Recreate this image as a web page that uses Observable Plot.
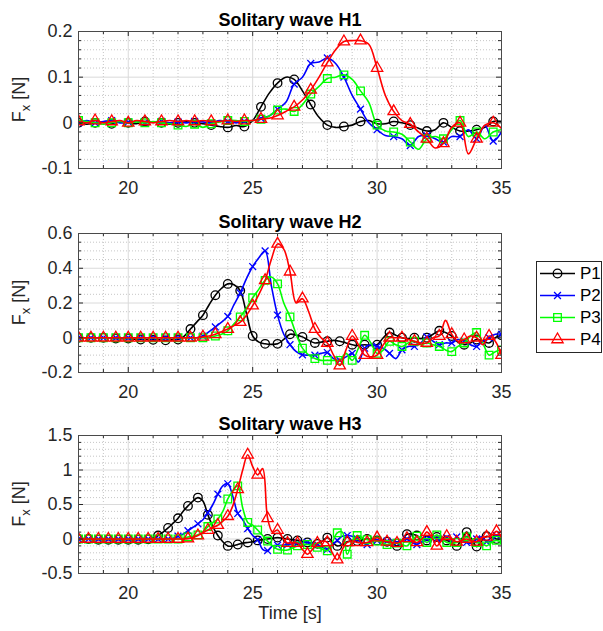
<!DOCTYPE html>
<html><head><meta charset="utf-8">
<script src="https://cdn.jsdelivr.net/npm/d3@7"></script>
<script src="https://cdn.jsdelivr.net/npm/@observablehq/plot@0.6"></script>
<style>
body{margin:0;background:#fff;}
#wrap{position:relative;width:603px;height:631px;overflow:hidden;background:#fff;}
.panel{position:absolute;left:0;}
#legend{position:absolute;left:536px;top:261px;}
</style>
</head><body><div id="wrap"></div>
<script>
// ---------- series meta ----------
const seriesNames = ["P1", "P2", "P3", "P4"];
const seriesColors = ["#000000", "#0000ff", "#00ff00", "#ff0000"];
const seriesSymbols = ["circle", "times", "square", "triangle"];

// ---------- shared x axis ----------
const xDomain = [18, 35];
const xMajorTicks = [20, 25, 30, 35];
const xTickLabels = ["20", "25", "30", "35"];
const xMinorTicks = [19, 20, 21, 22, 23, 24, 25, 26, 27, 28, 29, 30, 31, 32, 33, 34];
const xLabel = "Time [s]";

// ---------- Solitary wave H1 (sampled every 1/3 s from 18 s) ----------
const h1Title = "Solitary wave H1";
const h1Start = 18, h1Step = 1 / 3;
const h1P1 = [0, -0.003, 0, 0.002, -0.002, 0.002, 0, -0.002, 0.003, 0.002, 0, -0.003, 0, 0.002, 0, -0.002, -0.005, -0.008, -0.01, -0.006, -0.008,
  0.005, 0.035, 0.065, 0.087, 0.1, 0.095, 0.07, 0.04, 0.012, -0.005, -0.01, -0.008, -0.005, 0.003, 0.005, -0.002, -0.002, 0.003, 0, -0.005,
  -0.012, -0.018, -0.015, 0, -0.01, -0.018, -0.018, -0.015, -0.01, 0.003, 0.003];
const h1P2 = [0, 0.005, 0, 0.003, 0.005, 0, 0.002, 0.003, 0, 0.002, 0.003, 0, 0.002, 0, 0.003, 0.002, 0, 0.005, 0.003, 0, 0.003,
  0.005, 0.01, 0.015, 0.03, 0.045, 0.085, 0.1, 0.13, 0.133, 0.142, 0.13, 0.1, 0.06, 0.03, 0.0, -0.015, -0.028, -0.03, -0.035, -0.05,
  -0.03, -0.028, -0.035, -0.042, -0.03, -0.03, -0.015, -0.035, -0.006, -0.04, -0.02];
const h1P3 = [0.005, 0.003, 0, -0.003, 0, 0.003, 0, 0.002, 0, 0.003, 0, -0.002, -0.005, -0.008, -0.003, -0.01, -0.002, 0.002, 0.005, 0.005, 0.003,
  0.005, 0.008, 0.015, 0.028, 0.03, 0.025, 0.04, 0.063, 0.08, 0.097, 0.1, 0.105, 0.095, 0.07, 0.045, -0.005, -0.018, -0.02, -0.025, -0.042,
  -0.058, -0.035, -0.03, -0.035, -0.015, 0.005, -0.03, -0.02, -0.035, -0.02, -0.015];
const h1P4 = [0.003, 0, 0.005, 0, 0.003, 0.005, 0, 0.005, 0.003, 0, 0.003, 0.005, 0.003, 0.005, 0.003, 0.005, 0.003, 0.003, 0.005, 0.003, 0.005,
  0.005, 0.008, 0.01, 0.016, 0.025, 0.035, 0.05, 0.072, 0.1, 0.132, 0.16, 0.178, 0.18, 0.18, 0.172, 0.12, 0.06, 0.025, 0.005, -0.003,
  -0.02, -0.035, -0.055, -0.045, -0.01, 0.0, -0.068, -0.035, -0.005, 0.0, -0.012];
const h1YDomain = [-0.1, 0.2];
const h1YTicks = [-0.1, 0, 0.1, 0.2];
const h1YTickLabels = ["-0.1", "0", "0.1", "0.2"];
const h1YMinorStep = 0.02;

// ---------- Solitary wave H2 (sampled every 0.25 s from 18 s) ----------
const h2Title = "Solitary wave H2";
const h2Start = 18, h2Step = 0.25;
const h2P1 = [0, 0, 0, 0, 0, 0, -0.005, -0.005, -0.005, -0.008, -0.01, -0.01, -0.012, -0.012, -0.015, -0.012,
  -0.01, 0.01, 0.05, 0.09, 0.13, 0.19, 0.245, 0.285, 0.31, 0.305, 0.27, 0.14, 0.01, -0.025, -0.035, -0.038,
  -0.035, -0.01, 0.02, 0.015, 0.005, -0.015, -0.03, -0.025, -0.02, -0.015, -0.02, -0.03, -0.04, -0.045, -0.04, -0.045,
  -0.04, 0.0, 0.03, 0.015, 0, -0.005, 0, -0.005, 0, 0.02, 0.04, 0.03, 0.01, -0.025, -0.04, -0.03,
  -0.01, -0.02, -0.03, 0, 0.015];
const h2P2 = [0, 0, 0, 0, 0, 0, 0, 0, 0, 0, 0, 0, 0, 0, 0, 0, 0, 0, 0, 0,
  0.01, 0.035, 0.062, 0.09, 0.123, 0.19, 0.258, 0.34, 0.41, 0.46, 0.5, 0.3, 0.13, 0.02, -0.04, -0.08,
  -0.098, -0.1, -0.1, -0.09, -0.085, -0.12, -0.13, -0.11, -0.09, -0.14, -0.06, -0.04, -0.05, -0.06, -0.09, -0.12,
  -0.07, -0.05, -0.05, -0.03, 0.005, -0.02, -0.04, -0.03, -0.03, -0.01, -0.02, -0.04, -0.05, -0.02, 0, 0.02, 0.02];
const h2P3 = [0, 0, 0, 0, 0, 0, 0, 0, 0, 0, 0, 0, 0, 0, 0, 0, 0, 0, 0, 0,
  0, 0, 0.01, 0.02, 0.04, 0.08, 0.12, 0.17, 0.23, 0.28, 0.33, 0.35, 0.31, 0.2, 0.12, 0.02,
  -0.06, -0.1, -0.12, -0.13, -0.13, -0.13, -0.13, -0.09, -0.13, -0.06, 0.014, -0.03, -0.09, -0.07, -0.02, -0.04,
  -0.05, -0.03, -0.02, -0.04, -0.03, -0.04, -0.05, -0.07, -0.08, -0.05, -0.03, 0.01, 0.03, -0.03, -0.1, -0.08, -0.07];
const h2P4 = [0, 0, 0, 0, 0, 0, 0, 0, 0, 0, 0, 0, 0, 0, 0, 0, 0, 0, 0, 0,
  0.005, 0.01, 0.02, 0.035, 0.05, 0.07, 0.09, 0.13, 0.185, 0.25, 0.33, 0.45, 0.54, 0.51, 0.38, 0.2,
  0.225, 0.15, 0.05, 0.0, -0.03, -0.1, -0.16, -0.07, 0.01, -0.04, -0.1, -0.11, -0.1, -0.04, 0, 0,
  0, -0.01, -0.02, -0.03, -0.03, 0, 0.01, 0.1, 0.02, -0.02, -0.01, 0.01, 0, -0.04, 0.01, -0.02, -0.1];
const h2YDomain = [-0.2, 0.6];
const h2YTicks = [-0.2, 0, 0.2, 0.4, 0.6];
const h2YTickLabels = ["-0.2", "0", "0.2", "0.4", "0.6"];
const h2YMinorStep = 0.05;

// ---------- Solitary wave H3 (sampled every 0.2 s from 18 s) ----------
const h3Title = "Solitary wave H3";
const h3Start = 18, h3Step = 0.2;
const h3P1 = [0, 0, 0, -0.01, -0.01, -0.01, -0.01, -0.01, -0.01, -0.01, -0.01, -0.01, -0.01, -0.01, -0.005,
  0.01, 0.05, 0.1, 0.16, 0.23, 0.3, 0.4, 0.48, 0.55, 0.6, 0.55, 0.35, 0.18, 0.05, -0.04,
  -0.1, -0.1, -0.08, -0.06, -0.05, -0.04, -0.02, -0.01, 0, 0.01, 0.02, 0.01, 0, -0.01, -0.02,
  -0.04, -0.05, -0.06, -0.07, -0.03, 0.02, -0.04, -0.1, -0.08, -0.04, -0.03, -0.03, -0.01, 0, -0.01,
  -0.02, -0.03, -0.04, -0.06, -0.1, -0.02, 0.07, 0.07, 0.05, 0, -0.02, 0, 0.03, 0, -0.02,
  -0.05, -0.1, 0, 0.1, 0, -0.11, -0.03, 0.04, 0.02, 0, 0];
const h3P2 = [0, 0, 0, 0, 0, 0, 0, 0, 0, 0, 0, 0, 0, 0, 0, 0, 0, 0, 0, 0.01,
  0.04, 0.07, 0.12, 0.17, 0.22, 0.28, 0.38, 0.5, 0.65, 0.77, 0.8, 0.62, 0.37, 0.28, 0.15,
  0.05, -0.01, -0.15, -0.17, -0.1, -0.09, -0.09, -0.08, -0.07, -0.06, -0.05, -0.05, -0.06, -0.08, -0.12,
  -0.15, -0.08, -0.02, 0.04, 0.05, 0.04, 0, -0.05, -0.08, -0.02, -0.02, -0.04, -0.03, -0.02, -0.05,
  -0.03, 0, -0.05, -0.08, -0.04, 0, 0.02, 0, -0.02, 0.02, -0.04, 0.03, -0.02, -0.05, -0.06,
  0, 0.03, -0.04, -0.03, 0.05, 0];
const h3P3 = [0, 0, 0, 0, 0, 0, 0, 0, 0, 0, 0, 0, 0, 0, 0, 0, 0, 0, 0, 0,
  0, 0.01, 0.03, 0.04, 0.06, 0.1, 0.18, 0.24, 0.29, 0.4, 0.58, 0.7, 0.77, 0.45, 0.24,
  0.2, 0.13, 0.05, -0.03, -0.1, -0.15, -0.16, -0.16, -0.13, -0.1, -0.08, -0.08, -0.1, -0.12, -0.15,
  -0.17, -0.05, 0.09, 0.1, -0.22, -0.05, 0.05, 0.02, -0.01, -0.02, -0.03, -0.05, -0.08, -0.06, -0.06,
  -0.08, -0.1, -0.02, 0.04, 0, -0.05, 0, 0.06, 0, -0.05, -0.06, -0.05, -0.02, 0.03, -0.02,
  -0.05, -0.06, -0.1, -0.05, -0.02, -0.05];
const h3P4 = [0, 0, 0, 0, 0, 0, 0, 0, 0, 0, 0, 0, 0, 0, 0, 0, 0, 0, 0, 0,
  0, 0, 0.005, 0.02, 0.05, 0.09, 0.13, 0.17, 0.2, 0.26, 0.33, 0.48, 0.72, 1.0, 1.22,
  1.05, 0.93, 1.02, 0.3, 0.1, 0.13, 0.02, -0.06, -0.05, -0.06, -0.15, -0.22, -0.15, -0.06, -0.03,
  -0.05, -0.2, -0.3, -0.15, -0.05, -0.03, -0.05, -0.06, -0.05, -0.02, 0.02, -0.02, -0.04, -0.05, -0.06,
  -0.03, 0.01, -0.02, -0.05, 0, 0.1, 0.02, -0.1, -0.02, 0.04, 0, -0.04, -0.02, 0, -0.03,
  -0.04, 0.02, 0.03, 0.05, 0.11, 0.02];
const h3YDomain = [-0.5, 1.5];
const h3YTicks = [-0.5, 0, 0.5, 1, 1.5];
const h3YTickLabels = ["-0.5", "0", "0.5", "1", "1.5"];
const h3YMinorStep = 0.1;

// ---------- drawing ----------
const FONT = "'Liberation Sans', Arial, Helvetica, sans-serif";
const TXT = "#262626";
const W = 603, ML = 78, MR = 102;

function makePanel(cfg) {
  const rows = [];
  cfg.values.forEach((vals, s) => vals.forEach((v, i) => rows.push({s, i, t: cfg.start + i * cfg.step, v})));
  const plotH = cfg.height - cfg.marginTop - cfg.marginBottom;
  const plotW = W - ML - MR;
  const [y0, y1] = cfg.yDomain;
  const perPxY = (y1 - y0) / plotH;
  const perPxX = (xDomain[1] - xDomain[0]) / plotW;
  const nMin = Math.round(y0 / cfg.yMinorStep), nMax = Math.round(y1 / cfg.yMinorStep);
  const yMinor = d3.range(nMin, nMax + 1).map(k => +(k * cfg.yMinorStep).toFixed(6));
  const isMajorY = d => cfg.yTicks.some(t => Math.abs(t - d) < 1e-9);
  const yMinorInner = yMinor.filter(d => !isMajorY(d) && d > y0 && d < y1);
  const yMajorInner = cfg.yTicks.filter(d => d > y0 && d < y1);
  const xMinorInner = xMinorTicks.filter(d => !xMajorTicks.includes(d));
  const xMajorInner = xMajorTicks.filter(d => d > xDomain[0] && d < xDomain[1]);
  const majLen = 5, minLen = 3;

  const marks = [
    Plot.ruleX(xMinorInner, {stroke: "#b8b8b8", strokeWidth: 0.8, strokeDasharray: "1,2"}),
    Plot.ruleY(yMinorInner, {stroke: "#b8b8b8", strokeWidth: 0.8, strokeDasharray: "1,2"}),
    Plot.ruleX(xMajorInner, {stroke: "#dadada", strokeWidth: 1}),
    Plot.ruleY(yMajorInner, {stroke: "#dadada", strokeWidth: 1})
  ];
  cfg.values.forEach((vals, k) => {
    const sub = rows.filter(d => d.s === k);
    marks.push(Plot.line(sub, {x: "t", y: "v", stroke: seriesColors[k], strokeWidth: 1.6, curve: "catmull-rom", clip: true}));
    marks.push(Plot.dot(sub.filter(d => d.i % cfg.markEvery === 0), {
      x: "t", y: "v", symbol: seriesSymbols[k], stroke: seriesColors[k], fill: "none",
      r: k === 1 ? 3.2 : (k === 3 ? 4.2 : 4.3), strokeWidth: 1.3, clip: true
    }));
  });
  // inward ticks on all four sides
  marks.push(
    Plot.ruleX(xMinorInner, {y1: y0, y2: y0 + minLen * perPxY, stroke: TXT}),
    Plot.ruleX(xMinorInner, {y1: y1, y2: y1 - minLen * perPxY, stroke: TXT}),
    Plot.ruleX(xMajorInner, {y1: y0, y2: y0 + majLen * perPxY, stroke: TXT}),
    Plot.ruleX(xMajorInner, {y1: y1, y2: y1 - majLen * perPxY, stroke: TXT}),
    Plot.ruleY(yMinorInner, {x1: xDomain[0], x2: xDomain[0] + minLen * perPxX, stroke: TXT}),
    Plot.ruleY(yMinorInner, {x1: xDomain[1], x2: xDomain[1] - minLen * perPxX, stroke: TXT}),
    Plot.ruleY(yMajorInner, {x1: xDomain[0], x2: xDomain[0] + majLen * perPxX, stroke: TXT}),
    Plot.ruleY(yMajorInner, {x1: xDomain[1], x2: xDomain[1] - majLen * perPxX, stroke: TXT}),
    Plot.frame({stroke: "#4a4a4a", strokeWidth: 1}),
    Plot.axisX({ticks: xMajorTicks, tickSize: 0, tickPadding: 13, label: null, fontSize: 18,
      tickFormat: d => xTickLabels[xMajorTicks.indexOf(d)]}),
    Plot.axisY({ticks: cfg.yTicks, tickSize: 0, tickPadding: 6, label: null, fontSize: 18,
      tickFormat: d => cfg.yTickLabels[cfg.yTicks.findIndex(t => Math.abs(t - d) < 1e-9)]}),
    Plot.text([cfg.title], {frameAnchor: "top", dy: -6, lineAnchor: "bottom", fontWeight: "bold", fontSize: 18, fill: "#000"})
  );
  if (cfg.xLabel) {
    marks.push(Plot.text([cfg.xLabel], {frameAnchor: "bottom", dy: 45, lineAnchor: "bottom", fontSize: 18, fill: TXT}));
  }
  const svg = Plot.plot({
    width: W, height: cfg.height,
    marginLeft: ML, marginRight: MR, marginTop: cfg.marginTop, marginBottom: cfg.marginBottom,
    x: {domain: xDomain}, y: {domain: cfg.yDomain},
    style: {fontFamily: FONT, fontSize: "18px", color: TXT, background: "transparent", overflow: "visible"},
    marks
  });
  // y label with subscript
  const cy = cfg.marginTop + plotH / 2;
  const lab = d3.select(svg).append("text")
    .attr("transform", `translate(25,${cy}) rotate(-90)`)
    .attr("text-anchor", "middle").attr("fill", TXT)
    .style("font-family", FONT).style("font-size", "18px");
  lab.append("tspan").text("F");
  lab.append("tspan").attr("dy", 5).style("font-size", "13px").text("x");
  lab.append("tspan").attr("dy", -5).text(" [N]");
  const div = document.createElement("div");
  div.className = "panel";
  div.style.top = cfg.top + "px";
  div.appendChild(svg);
  document.getElementById("wrap").appendChild(div);
}

makePanel({title: h1Title, start: h1Start, step: h1Step, values: [h1P1, h1P2, h1P3, h1P4], markEvery: 2,
  yDomain: h1YDomain, yTicks: h1YTicks, yTickLabels: h1YTickLabels, yMinorStep: h1YMinorStep,
  top: 0, height: 200, marginTop: 31, marginBottom: 32});
makePanel({title: h2Title, start: h2Start, step: h2Step, values: [h2P1, h2P2, h2P3, h2P4], markEvery: 2,
  yDomain: h2YDomain, yTicks: h2YTicks, yTickLabels: h2YTickLabels, yMinorStep: h2YMinorStep,
  top: 200, height: 200, marginTop: 33, marginBottom: 28});
makePanel({title: h3Title, start: h3Start, step: h3Step, values: [h3P1, h3P2, h3P3, h3P4], markEvery: 2,
  yDomain: h3YDomain, yTicks: h3YTicks, yTickLabels: h3YTickLabels, yMinorStep: h3YMinorStep,
  top: 400, height: 231, marginTop: 35, marginBottom: 58, xLabel: xLabel});

// ---------- legend ----------
(function () {
  const lw = 65, lh = 91;
  const svg = d3.select("#wrap").append("svg").attr("id", "legend").attr("width", lw + 2).attr("height", lh + 2);
  svg.append("rect").attr("x", 0.5).attr("y", 0.5).attr("width", lw).attr("height", lh)
    .attr("fill", "#fff").attr("stroke", TXT).attr("stroke-width", 1);
  const symMap = {circle: d3.symbolCircle, times: d3.symbolTimes, square: d3.symbolSquare, triangle: d3.symbolTriangle};
  const sizes = [Math.PI * 4.3 * 4.3, Math.PI * 3.2 * 3.2, Math.PI * 4.3 * 4.3, Math.PI * 4.2 * 4.2];
  seriesNames.forEach((name, k) => {
    const y = 12.5 + k * 22;
    const g = svg.append("g");
    g.append("line").attr("x1", 4).attr("x2", 39).attr("y1", y).attr("y2", y)
      .attr("stroke", seriesColors[k]).attr("stroke-width", 1.6);
    g.append("path").attr("transform", `translate(21.5,${y})`)
      .attr("d", d3.symbol(symMap[seriesSymbols[k]], sizes[k])())
      .attr("fill", "none").attr("stroke", seriesColors[k]).attr("stroke-width", 1.3);
    g.append("text").attr("x", 44).attr("y", y).attr("dy", "0.35em")
      .style("font-family", FONT).style("font-size", "17px").attr("fill", "#000").text(name);
  });
})();
</script>
</body></html>
